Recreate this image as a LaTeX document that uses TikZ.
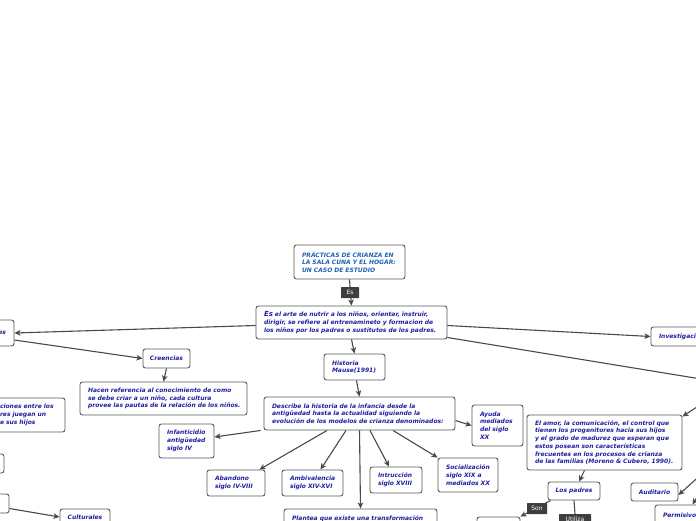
\documentclass[tikz,border=0pt]{standalone}
\usepackage{fontspec}
\newfontfamily\mapfont{DejaVu Sans}
\usetikzlibrary{arrows.meta}
\definecolor{navy}{HTML}{1F1FA0}
\definecolor{titleblue}{HTML}{1E64B4}
\definecolor{boxgray}{HTML}{5A5A5A}
\definecolor{linegray}{HTML}{4A4A4A}
\definecolor{labelgray}{HTML}{3E3E3E}
\tikzset{
  mapbox/.style={draw=boxgray, line width=0.9pt, rounded corners=2.5pt, fill=white,
    text=navy, inner sep=0pt, align=left,
    font=\mapfont\bfseries\itshape\fontsize{6}{7.7}\selectfont},
  sz/.style n args={2}{minimum width=#1pt, minimum height=#2pt, text width=#1pt-16pt},
  szc/.style n args={2}{minimum width=#1pt, minimum height=#2pt, align=center},
  tag/.style={fill=labelgray, text=white, inner sep=0pt, minimum height=11pt,
    rounded corners=0.5pt, font=\mapfont\fontsize{6}{6}\selectfont},
  conn/.style={draw=linegray, line width=1.1pt},
  arr/.style={conn, -{Stealth[length=6pt,width=5.5pt,inset=1.5pt]}}
}
\begin{document}
\begin{tikzpicture}[x=1pt,y=-1pt]
\useasboundingbox (0,0) rectangle (696,520);
\clip (0,0) rectangle (696,520);
\fill[white] (0,0) rectangle (696,520);

% nodes
\node[mapbox, sz={111}{34}, text=titleblue] (title) at (349.5,262)
  {PRÁCTICAS DE CRIANZA EN\\LA SALA CUNA Y EL HOGAR:\\UN CASO DE ESTUDIO};
\node[mapbox, sz={191}{33}] (main) at (351.5,322.5)
  {{\fontsize{7}{7.7}\selectfont Es} el arte de nutrir a los niños, orientar, instruir,\\dirigir, se refiere al entrenamineto y formacion de\\los niños por los padres o sustitutos de los padres.};
\node[mapbox, sz={44}{26}, align=right] (leftA) at (-8,333) {es};
\node[mapbox, szc={47}{19}] (creencias) at (166.5,358.5) {Creencias};
\node[mapbox, sz={167}{33}] (hacen) at (163.5,398.5)
  {\mbox{Hacen referencia al conocimiento de como}\\\mbox{se debe criar a un niño, cada cultura}\\\mbox{provee las pautas de la relación de los niños.}};
\node[mapbox, sz={73}{34}] (leftB) at (28.5,415)
  {ciones entre los\\res juegan un\\e sus hijos};
\node[mapbox, sz={44}{19}] (leftC) at (-18,463.5) {};
\node[mapbox, sz={49}{19}] (leftD) at (-15.5,503.5) {};
\node[mapbox, szc={50}{16}] (culturales) at (85,517) {Culturales};
\node[mapbox, sz={61}{26}] (historia) at (354.5,367) {Historia\\Mause(1991)};
\node[mapbox, sz={191}{33}] (describe) at (359.5,413.5)
  {\mbox{Describe la historia de la infancia desde la}\\\mbox{antigüedad hasta la actualidad siguiendo la}\\\mbox{evolución de los modelos de crianza denominados:}};
\node[mapbox, sz={55}{34}] (infanticidio) at (186.5,441) {Infanticidio\\antigüedad\\siglo IV};
\node[mapbox, sz={58}{26}] (abandono) at (236,483) {Abandono\\\mbox{siglo IV-VIII}};
\node[mapbox, sz={61}{26}] (ambivalencia) at (312.5,483) {Ambivalencia\\\mbox{siglo XIV-XVI}};
\node[mapbox, sz={52}{26}] (intruccion) at (396,480) {Intrucción\\\mbox{siglo XVIII}};
\node[mapbox, sz={60}{34}] (socializacion) at (468,475) {Socialización\\siglo XIX a\\\mbox{mediados XX}};
\node[mapbox, sz={51}{41}] (ayuda) at (497.5,425.5) {Ayuda\\mediados\\del siglo\\XX};
\node[mapbox, sz={153}{20}] (plantea) at (360.5,519) {Plantea que existe una transformación};
\node[mapbox, sz={89}{19}] (investigacion) at (695.5,336.5) {Investigación};
\node[mapbox, sz={155}{55}] (elamor) at (604.5,442.5)
  {\mbox{El amor, la comunicación, el control que}\\\mbox{tienen los progenitores hacia sus hijos}\\\mbox{y el grado de madurez que esperan que}\\\mbox{estos posean son características}\\\mbox{frecuentes en los procesos de crianza}\\\mbox{de las familias (Moreno \& Cubero, 1990).}};
\node[mapbox, szc={52}{18}] (lospadres) at (574,491) {Los padres};
\node[mapbox, szc={47}{18}] (auditario) at (654.5,492) {Auditario};
\node[mapbox, sz={85}{20}] (permisivo) at (697.5,515) {Permisivo};
\node[mapbox, sz={43}{22}] (cutbox) at (498.5,528) {};

% off-picture ends
\coordinate (offR1) at (750,387);
\coordinate (offR2) at (718,393);
\coordinate (offR3) at (716,461);
\coordinate (offR4) at (700,492);

% connectors
\draw[arr] (title.south) -- (main.north);
\draw[arr] ([yshift=-3pt]main.west) -- (leftA.east);
\draw[arr] ([yshift=-7pt]leftA.east) -- (creencias.west);
\draw[arr] (creencias.south) -- (hacen.north);
\draw[arr] (main.south) -- (historia.north);
\draw[arr] ([xshift=2pt]historia.south) -- (describe.north);
\draw[arr] ([xshift=-3pt]describe.south west) -- ([yshift=4pt]infanticidio.east);
\draw[arr] ([xshift=-32.5pt]describe.south) -- ([xshift=-6pt]abandono.north east);
\draw[arr] ([xshift=-13.5pt]describe.south) -- ([xshift=8pt]ambivalencia.north);
\draw[arr] ([xshift=10.5pt]describe.south) -- ([xshift=-7pt]intruccion.north);
\draw[arr] ([xshift=33.5pt]describe.south) -- (socializacion.north west);
\draw[arr] (describe.south) -- (plantea.north);
\draw[arr] ([yshift=-7pt]describe.east) -- (ayuda.west);
\draw[arr] ([yshift=-3pt]main.east) -- (investigacion.west);
\draw[conn] ([yshift=-15pt]main.east) -- (offR1);
\draw[arr] (offR2) -- ([yshift=-2pt]elamor.north east);
\draw[arr] ([xshift=-20pt]elamor.south) -- ([xshift=5pt]lospadres.north);
\draw[arr] ([xshift=3pt]lospadres.south west) -- (cutbox.north east);
\draw[conn] (lospadres.south) -- (575,514);
\draw[arr] (offR3) -- ([yshift=-3pt]auditario.east);
\draw[arr] (offR4) -- ([xshift=38pt]permisivo.north west);
\draw[arr] ([yshift=-5pt]leftD.east) -- (culturales.west);

% labels on connectors
\node[tag, minimum width=18pt] (es) at (350,292.5) {Es};
\node[tag, minimum width=20pt] (son) at (537,508.5) {Son};
\node[tag, minimum width=32pt, anchor=north] (utiliza) at (575,514) {Utiliza};
\end{tikzpicture}
\end{document}
